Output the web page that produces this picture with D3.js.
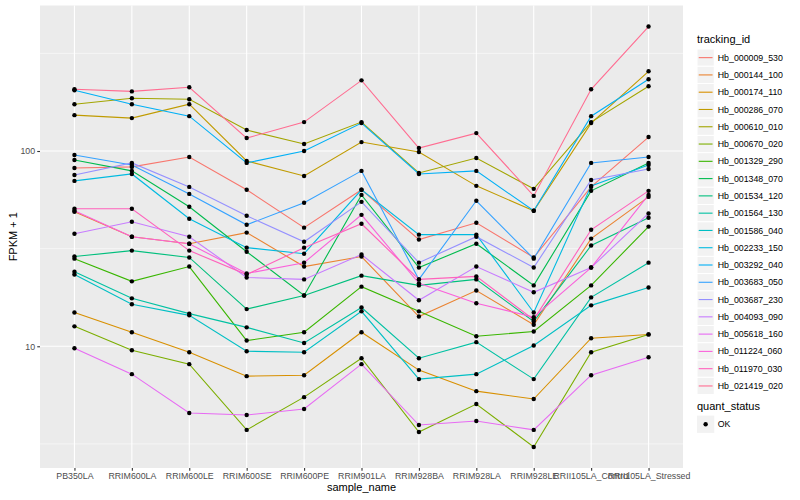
<!DOCTYPE html>
<html>
<head>
<meta charset="utf-8">
<script src="https://cdn.jsdelivr.net/npm/d3@7"></script>
<style>
  body { margin: 0; background: #fff; }
  svg { font-family: "Liberation Sans", Arial, sans-serif; }
</style>
</head>
<body>
<div id="line-chart"></div>
<script>
const samples = ['PB350LA', 'RRIM600LA', 'RRIM600LE', 'RRIM600SE', 'RRIM600PE', 'RRIM901LA',
  'RRIM928BA', 'RRIM928LA', 'RRIM928LE', 'RRII105LA_Control', 'RRII105LA_Stressed'];

const trackingIds = ['Hb_000009_530', 'Hb_000144_100', 'Hb_000174_110', 'Hb_000286_070',
  'Hb_000610_010', 'Hb_000670_020', 'Hb_001329_290', 'Hb_001348_070', 'Hb_001534_120',
  'Hb_001564_130', 'Hb_001586_040', 'Hb_002233_150', 'Hb_003292_040', 'Hb_003683_050',
  'Hb_003687_230', 'Hb_004093_090', 'Hb_005618_160', 'Hb_011224_060', 'Hb_011970_030',
  'Hb_021419_020'];

// FPKM + 1, one row per tracking id, one value per sample
const fpkm = [
  [81.9, 82.9, 93.2, 63.3, 40.5, 63.3, 35.2, 42.9, 28.5, 65.5, 117.9],
  [48.8, 36.4, 33.5, 38.2, 25.6, 28.8, 14.2, 19.3, 12.9, 35.6, 58.2],
  [14.9, 11.8, 9.32, 7.03, 7.11, 11.8, 7.55, 5.89, 5.37, 11.0, 11.5],
  [152.6, 147.4, 173.7, 88.9, 74.5, 111.1, 98.8, 66.3, 49.4, 139, 256],
  [173.7, 186.4, 184.2, 128, 108.6, 140.6, 77.2, 92.1, 64, 140.6, 214.7],
  [12.65, 9.55, 8.1, 3.73, 5.49, 8.69, 3.64, 5.06, 3.05, 9.32, 11.5],
  [28.1, 21.5, 25.6, 10.7, 11.8, 20.2, 15.1, 11.25, 11.9, 20.5, 41],
  [90, 79.1, 51.8, 30.5, 18.2, 59.6, 25.3, 33.5, 20.5, 62.5, 86.9],
  [28.8, 30.9, 28.5, 15.5, 18.2, 23, 20.5, 22, 13.4, 32.8, 45.5],
  [24.1, 17.6, 14.7, 12.5, 10.4, 15.8, 8.69, 10.5, 6.79, 17.8, 26.8],
  [23.3, 16.4, 14.4, 9.43, 9.32, 15.1, 6.79, 7.2, 10.1, 16.2, 20],
  [70.3, 76.3, 45, 32, 29.8, 63.3, 37.3, 37.3, 14.9, 66.3, 84.8],
  [204.8, 173.7, 150.8, 86.9, 100, 139, 76.3, 79.1, 49.4, 150.8, 233],
  [95.4, 84.8, 60.3, 41.9, 54.3, 79.1, 22, 55.6, 28.1, 86.9, 93.2],
  [75.4, 86.9, 65.5, 46.6, 34.3, 54.9, 26.8, 36.4, 25.3, 71.1, 80.9],
  [37.7, 43.4, 36.4, 22.5, 22, 29.5, 17.2, 25.6, 18.9, 25.3, 47.9],
  [9.77, 7.2, 4.55, 4.45, 4.77, 8.1, 3.95, 4.14, 3.73, 7.11, 8.79],
  [49.4, 36.4, 33.5, 23.6, 26.8, 47.1, 21, 16.6, 14.1, 25.3, 59.6],
  [50.6, 50.6, 30.9, 23.3, 32, 42.4, 22, 22.8, 13.7, 39.5, 62.5],
  [207, 202, 212, 116.5, 140.6, 230, 103.6, 123.5, 58.9, 207, 434]
];

const quantStatus = ['OK'];
const yBreaks = [10, 100];
const yMinorBreaks = [3.1623, 31.623, 316.23];

const palette = ['#F8766D', '#EA8331', '#D89000', '#C09B00', '#A3A500', '#7CAE00', '#39B600',
  '#00BB4E', '#00BF7D', '#00C1A3', '#00BFC4', '#00BAE0', '#00B0F6', '#35A2FF', '#9590FF',
  '#C77CFF', '#E76BF3', '#FA62DB', '#FF62BC', '#FF6C91'];

class Chart {

  constructor() {
    this.element = document.getElementById('line-chart');
    this.series = trackingIds.map((id, i) => ({
      id: id,
      values: samples.map((s, j) => ({ sample: s, value: fpkm[i][j] }))
    }));
    this.createChart();
  }

  createChart() {
    this.width = 800;
    this.height = 500;
    this.panel = { left: 40, right: 683, top: 5.5, bottom: 468 };

    this.svg = d3.select(this.element)
      .append('svg')
        .attr('width', this.width)
        .attr('height', this.height);

    this.createScales();
    this.addPanel();
    this.addAxes();
    this.addLines();
    this.addLegend();
  }

  createScales() {
    const p = this.panel;
    const all = fpkm.flat();
    const lo = Math.log10(d3.min(all));
    const hi = Math.log10(d3.max(all));
    const pad = (hi - lo) * 0.05;
    this.xScale = d3.scalePoint()
      .domain(samples)
      .range([p.left, p.right])
      .padding(0.6);
    this.yScale = d3.scaleLog()
      .domain([Math.pow(10, lo - pad), Math.pow(10, hi + pad)])
      .range([p.bottom, p.top]);
    this.color = d3.scaleOrdinal().domain(trackingIds).range(palette);
  }

  addPanel() {
    const p = this.panel;
    this.svg.append('rect')
      .attr('x', p.left)
      .attr('y', p.top)
      .attr('width', p.right - p.left)
      .attr('height', p.bottom - p.top)
      .attr('fill', '#EBEBEB');

    const grid = this.svg.append('g');
    grid.selectAll('.minor')
      .data(yMinorBreaks)
      .enter().append('line')
        .attr('x1', p.left).attr('x2', p.right)
        .attr('y1', d => this.yScale(d)).attr('y2', d => this.yScale(d))
        .attr('stroke', '#fff').attr('stroke-width', 0.55);
    grid.selectAll('.major')
      .data(yBreaks)
      .enter().append('line')
        .attr('x1', p.left).attr('x2', p.right)
        .attr('y1', d => this.yScale(d)).attr('y2', d => this.yScale(d))
        .attr('stroke', '#fff').attr('stroke-width', 1.1);
    grid.selectAll('.xmajor')
      .data(samples)
      .enter().append('line')
        .attr('x1', d => this.xScale(d)).attr('x2', d => this.xScale(d))
        .attr('y1', p.top).attr('y2', p.bottom)
        .attr('stroke', '#fff').attr('stroke-width', 1.1);
  }

  addAxes() {
    const p = this.panel;
    const xAxis = d3.axisBottom(this.xScale)
      .tickSize(2.75)
      .tickPadding(2.5);
    const yAxis = d3.axisLeft(this.yScale)
      .tickValues(yBreaks)
      .tickFormat(d3.format('d'))
      .tickSize(2.75)
      .tickPadding(2.2);

    const gx = this.svg.append('g')
      .attr('transform', `translate(0, ${p.bottom})`)
      .call(xAxis);
    const gy = this.svg.append('g')
      .attr('transform', `translate(${p.left}, 0)`)
      .call(yAxis);
    [gx, gy].forEach(g => {
      g.select('.domain').remove();
      g.selectAll('.tick line').attr('stroke', '#333333').attr('stroke-width', 1.1);
      g.selectAll('.tick text')
        .attr('fill', '#4D4D4D')
        .style('font-size', '8.8px')
        .style('font-family', '"Liberation Sans", Arial, sans-serif');
    });

    this.svg.append('text')
      .attr('x', (p.left + p.right) / 2)
      .attr('y', 491)
      .style('text-anchor', 'middle')
      .style('font-size', '11px')
      .text('sample_name');
    this.svg.append('text')
      .attr('transform', `translate(16.5, ${(p.top + p.bottom) / 2}) rotate(-90)`)
      .style('text-anchor', 'middle')
      .style('font-size', '11px')
      .text('FPKM + 1');
  }

  addLines() {
    const line = d3.line()
      .x(d => this.xScale(d.sample))
      .y(d => this.yScale(d.value));
    this.svg.append('g')
      .selectAll('path')
      .data(this.series)
      .enter().append('path')
        .attr('fill', 'none')
        .attr('stroke', d => this.color(d.id))
        .attr('stroke-width', 1.1)
        .attr('d', d => line(d.values));
    this.svg.append('g')
      .selectAll('circle')
      .data(this.series.flatMap(d => d.values))
      .enter().append('circle')
        .attr('cx', d => this.xScale(d.sample))
        .attr('cy', d => this.yScale(d.value))
        .attr('r', 2.2)
        .attr('fill', '#000');
  }

  addLegend() {
    const left = 697;
    const key = 17.28;
    const top = 49;
    const legend = this.svg.append('g');

    legend.append('text')
      .attr('x', left).attr('y', 43)
      .style('font-size', '11px')
      .text('tracking_id');

    const item = legend.selectAll('.item')
      .data(trackingIds)
      .enter().append('g')
        .attr('transform', (d, i) => `translate(${left}, ${top + i * key})`);
    item.append('rect')
      .attr('width', key).attr('height', key)
      .attr('fill', '#F2F2F2')
      .attr('stroke', '#fff');
    item.append('line')
      .attr('x1', key * 0.1).attr('x2', key * 0.9)
      .attr('y1', key / 2).attr('y2', key / 2)
      .attr('stroke', d => this.color(d))
      .attr('stroke-width', 1.1);
    item.append('text')
      .attr('x', key + 3.5).attr('y', key / 2 + 3.1)
      .style('font-size', '8.8px')
      .text(d => d);

    const qTop = top + trackingIds.length * key + 21;
    legend.append('text')
      .attr('x', left).attr('y', qTop - 6)
      .style('font-size', '11px')
      .text('quant_status');
    const q = legend.selectAll('.qitem')
      .data(quantStatus)
      .enter().append('g')
        .attr('transform', (d, i) => `translate(${left}, ${qTop + i * key})`);
    q.append('rect')
      .attr('width', key).attr('height', key)
      .attr('fill', '#F2F2F2');
    q.append('circle')
      .attr('cx', key / 2).attr('cy', key / 2)
      .attr('r', 2.2)
      .attr('fill', '#000');
    q.append('text')
      .attr('x', key + 3.5).attr('y', key / 2 + 3.1)
      .style('font-size', '8.8px')
      .text(d => d);
  }

}

new Chart();
</script>
</body>
</html>
